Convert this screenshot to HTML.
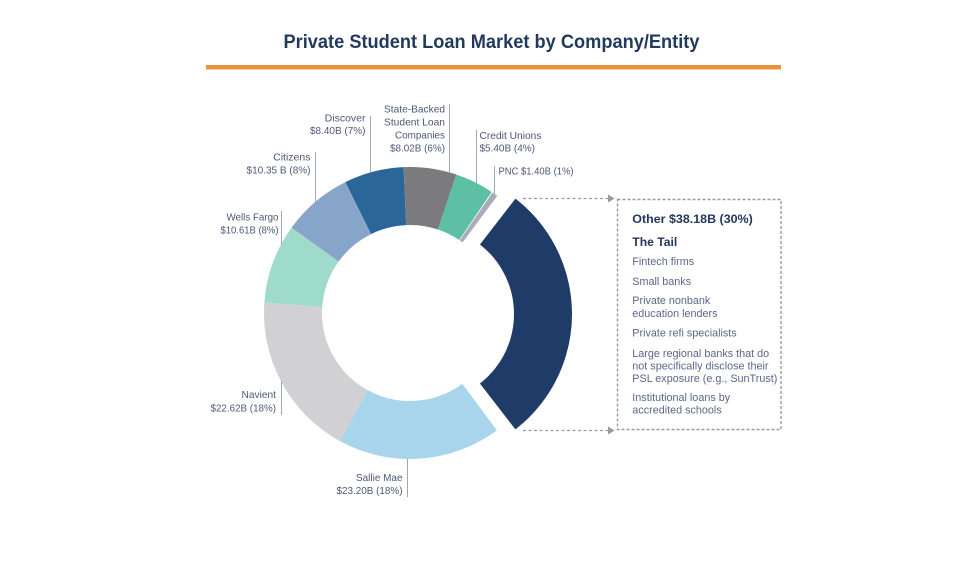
<!DOCTYPE html>
<html>
<head>
<meta charset="utf-8">
<style>
  html,body{margin:0;padding:0;background:#ffffff;}
  svg{display:block;}
  text{font-family:"Liberation Sans",Arial,sans-serif;}
  .lbl{font-size:10.5px;fill:#4d5878;}
  .body{font-size:10.8px;fill:#5a6788;}
  .hd{font-size:12px;font-weight:bold;fill:#22375b;}
  .ld{stroke:#a3a8b4;stroke-width:1;}
</style>
</head>
<body>
<svg width="958" height="562" viewBox="0 0 958 562" xmlns="http://www.w3.org/2000/svg">
  <rect width="958" height="562" fill="#ffffff"/>

  <!-- Title -->
  <text x="283.5" y="48" font-size="19" font-weight="bold" fill="#223a5e" textLength="416" lengthAdjust="spacingAndGlyphs">Private Student Loan Market by Company/Entity</text>
  <rect x="206" y="65" width="575" height="4.5" fill="#e8923b"/>

  <!-- Donut slices -->
  <g fill="none" stroke-width="58">
    <circle cx="410" cy="313" r="117" stroke="#2b6699" stroke-dasharray="48.60 1000" transform="rotate(-116.3 410 313)"/>
    <circle cx="410" cy="313" r="117" stroke="#7b7b7d" stroke-dasharray="42.88 1000" transform="rotate(-92.5 410 313)"/>
    <circle cx="410" cy="313" r="117" stroke="#5dbfa3" stroke-dasharray="31.66 1000" transform="rotate(-71.5 410 313)"/>
    <circle cx="410" cy="313" r="117" stroke="#a8abb8" stroke-dasharray="4.70 1000" transform="rotate(-55.6 410 313)"/>
    <circle cx="410" cy="313" r="117" stroke="#a9d5ec" stroke-dasharray="133.14 1000" transform="rotate(53.5 410 313)"/>
    <circle cx="410" cy="313" r="117" stroke="#d1d1d4" stroke-dasharray="133.55 1000" transform="rotate(118.7 410 313)"/>
    <circle cx="410" cy="313" r="117" stroke="#9edbca" stroke-dasharray="64.73 1000" transform="rotate(184.1 410 313)"/>
    <circle cx="410" cy="313" r="117" stroke="#87a5c9" stroke-dasharray="56.97 1000" transform="rotate(215.8 410 313)"/>
    <circle cx="426" cy="314" r="117" stroke="#1f3c69" stroke-dasharray="213.19 1000" transform="rotate(-52.2 426 314)"/>
  </g>

  <!-- Leader lines -->
  <line class="ld" x1="370.5" y1="116" x2="370.5" y2="173"/>
  <line class="ld" x1="449.5" y1="104" x2="449.5" y2="172"/>
  <line class="ld" x1="315.5" y1="152" x2="315.5" y2="202"/>
  <line class="ld" x1="281.5" y1="211" x2="281.5" y2="245"/>
  <line class="ld" x1="476.5" y1="130" x2="476.5" y2="183"/>
  <line class="ld" x1="494.5" y1="166" x2="494.5" y2="194"/>
  <line class="ld" x1="281.5" y1="381" x2="281.5" y2="415"/>
  <line class="ld" x1="407.5" y1="459" x2="407.5" y2="497"/>

  <!-- Labels -->
  <text class="lbl" x="365.5" y="121.5" text-anchor="end">Discover</text>
  <text class="lbl" x="365.5" y="134" text-anchor="end" textLength="55.5" lengthAdjust="spacingAndGlyphs">$8.40B (7%)</text>

  <text class="lbl" x="445" y="112.5" text-anchor="end" textLength="61" lengthAdjust="spacingAndGlyphs">State-Backed</text>
  <text class="lbl" x="445" y="125.5" text-anchor="end" textLength="61" lengthAdjust="spacingAndGlyphs">Student Loan</text>
  <text class="lbl" x="445" y="138.5" text-anchor="end" textLength="50" lengthAdjust="spacingAndGlyphs">Companies</text>
  <text class="lbl" x="445" y="151.5" text-anchor="end" textLength="55" lengthAdjust="spacingAndGlyphs">$8.02B (6%)</text>

  <text class="lbl" x="310.5" y="160.5" text-anchor="end">Citizens</text>
  <text class="lbl" x="310.5" y="173.5" text-anchor="end" textLength="64" lengthAdjust="spacingAndGlyphs">$10.35 B (8%)</text>

  <text class="lbl" x="278.5" y="220.5" text-anchor="end" textLength="52" lengthAdjust="spacingAndGlyphs">Wells Fargo</text>
  <text class="lbl" x="278.5" y="233.5" text-anchor="end" textLength="58" lengthAdjust="spacingAndGlyphs">$10.61B (8%)</text>

  <text class="lbl" x="479.5" y="139" textLength="62" lengthAdjust="spacingAndGlyphs">Credit Unions</text>
  <text class="lbl" x="479.5" y="151.5" textLength="55.5" lengthAdjust="spacingAndGlyphs">$5.40B (4%)</text>

  <text class="lbl" x="498.5" y="174.5" textLength="75" lengthAdjust="spacingAndGlyphs">PNC $1.40B (1%)</text>

  <text class="lbl" x="276" y="398" text-anchor="end" textLength="34.5" lengthAdjust="spacingAndGlyphs">Navient</text>
  <text class="lbl" x="276" y="411.5" text-anchor="end" textLength="65.5" lengthAdjust="spacingAndGlyphs">$22.62B (18%)</text>

  <text class="lbl" x="402.5" y="481" text-anchor="end" textLength="46.5" lengthAdjust="spacingAndGlyphs">Sallie Mae</text>
  <text class="lbl" x="402.5" y="494" text-anchor="end" textLength="66" lengthAdjust="spacingAndGlyphs">$23.20B (18%)</text>

  <!-- Dashed connectors with arrows -->
  <line x1="523" y1="198.5" x2="609" y2="198.5" stroke="#9a9a9a" stroke-width="1.3" stroke-dasharray="3 2.5"/>
  <polygon points="608,194.5 614.5,198.5 608,202.5" fill="#9a9a9a"/>
  <line x1="523" y1="430.5" x2="609" y2="430.5" stroke="#9a9a9a" stroke-width="1.3" stroke-dasharray="3 2.5"/>
  <polygon points="608,426.5 614.5,430.5 608,434.5" fill="#9a9a9a"/>

  <!-- Box -->
  <rect x="617.5" y="199.5" width="163.5" height="230" fill="none" stroke="#9a9a9a" stroke-width="1.4" stroke-dasharray="3 2"/>

  <text class="hd" x="632.3" y="223" textLength="120.5" lengthAdjust="spacingAndGlyphs">Other $38.18B (30%)</text>
  <text class="hd" x="632.3" y="246" textLength="45" lengthAdjust="spacingAndGlyphs">The Tail</text>
  <text class="body" x="632.3" y="265">Fintech firms</text>
  <text class="body" x="632.3" y="285">Small banks</text>
  <text class="body" x="632.3" y="304">Private nonbank</text>
  <text class="body" x="632.3" y="317">education lenders</text>
  <text class="body" x="632.3" y="336.5">Private refi specialists</text>
  <text class="body" x="632.3" y="357">Large regional banks that do</text>
  <text class="body" x="632.3" y="369.5">not specifically disclose their</text>
  <text class="body" x="632.3" y="382">PSL exposure (e.g., SunTrust)</text>
  <text class="body" x="632.3" y="401">Institutional loans by</text>
  <text class="body" x="632.3" y="413.5">accredited schools</text>
</svg>
</body>
</html>
